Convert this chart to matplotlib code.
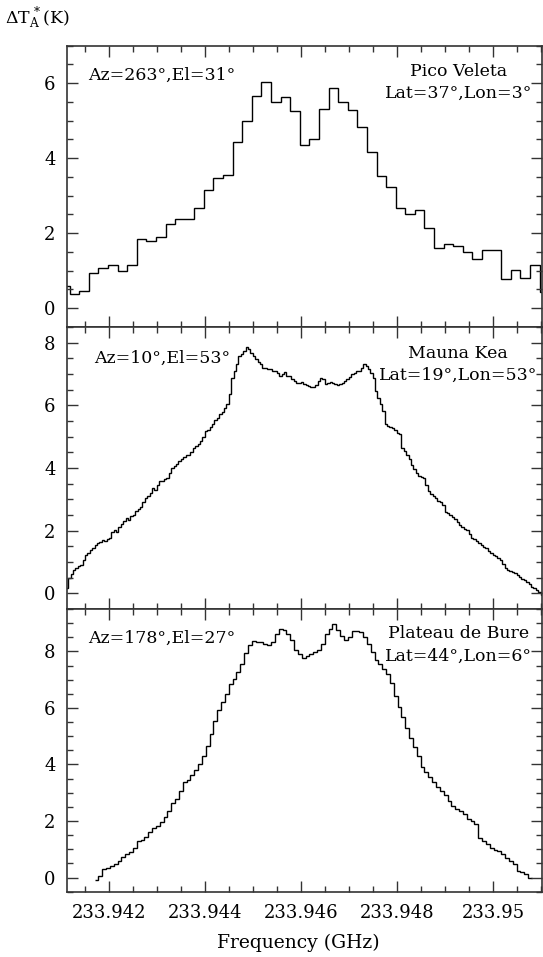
import numpy as np
import matplotlib
matplotlib.use('Agg')
import matplotlib.pyplot as plt
from matplotlib.ticker import MultipleLocator, FuncFormatter

plt.rcParams['font.family'] = ['DejaVu Serif']
plt.rcParams['mathtext.fontset'] = 'dejavuserif'

# x-range of the plot (GHz)
freq_min, freq_max = 233.94111, 233.95102

# ---- Pico Veleta (0.2 MHz channels) ----
pv_start, pv_width = 233.94097, 0.0002
pv_vals = [0.59, 0.37, 0.46, 0.93, 1.06, 1.15, 0.99, 1.16, 1.85, 1.79,
           1.91, 2.24, 2.38, 2.38, 2.66, 3.16, 3.48, 3.55, 4.42, 5.00,
           5.66, 6.04, 5.49, 5.62, 5.27, 4.35, 4.52, 5.30, 5.87, 5.51,
           5.29, 4.82, 4.16, 3.53, 3.23, 2.68, 2.51, 2.62, 2.14, 1.60,
           1.72, 1.66, 1.50, 1.31, 1.54, 1.54, 0.78, 1.01, 0.80, 1.15,
           0.44]

# ---- Mauna Kea (0.05 MHz channels) ----
mk_start, mk_width = 233.94109, 0.00005
mk_vals = [0.16, 0.48, 0.62, 0.75, 0.80, 0.88, 0.91, 1.05, 1.23, 1.30,
           1.38, 1.46, 1.55, 1.60, 1.65, 1.70, 1.66, 1.72, 1.76, 1.97,
           2.02, 1.95, 2.13, 2.20, 2.30, 2.40, 2.35, 2.46, 2.51, 2.62,
           2.70, 2.77, 2.90, 3.04, 3.10, 3.20, 3.36, 3.30, 3.45, 3.57,
           3.60, 3.66, 3.68, 3.85, 4.00, 4.05, 4.12, 4.21, 4.30, 4.36,
           4.40, 4.40, 4.52, 4.64, 4.70, 4.78, 4.85, 5.00, 5.17, 5.22,
           5.30, 5.39, 5.52, 5.60, 5.71, 5.80, 5.92, 6.03, 6.35, 6.88,
           7.10, 7.31, 7.57, 7.65, 7.73, 7.86, 7.79, 7.68, 7.57, 7.47,
           7.38, 7.31, 7.20, 7.18, 7.16, 7.15, 7.08, 7.10, 7.04, 6.95,
           6.99, 7.05, 6.93, 6.93, 6.83, 6.78, 6.72, 6.70, 6.74, 6.67,
           6.64, 6.63, 6.60, 6.58, 6.66, 6.78, 6.88, 6.83, 6.67, 6.70,
           6.75, 6.72, 6.68, 6.64, 6.67, 6.72, 6.78, 6.83, 6.92, 6.99,
           7.02, 7.08, 7.11, 7.20, 7.31, 7.25, 7.15, 7.02, 6.88, 6.45,
           6.22, 6.03, 5.81, 5.39, 5.33, 5.30, 5.28, 5.20, 5.12, 5.07,
           4.64, 4.55, 4.43, 4.28, 4.11, 3.98, 3.84, 3.76, 3.72, 3.68,
           3.47, 3.25, 3.18, 3.10, 3.04, 2.96, 2.90, 2.83, 2.61, 2.55,
           2.50, 2.45, 2.36, 2.28, 2.19, 2.12, 2.06, 2.03, 1.88, 1.76,
           1.72, 1.66, 1.60, 1.54, 1.49, 1.44, 1.36, 1.30, 1.23, 1.18,
           1.12, 1.07, 0.95, 0.80, 0.76, 0.72, 0.69, 0.64, 0.58, 0.53,
           0.47, 0.42, 0.37, 0.30, 0.21, 0.16, 0.10, 0.05, -0.05]

# ---- Plateau de Bure (0.08 MHz channels) ----
pb_start, pb_width = 233.94169, 0.00008
pb_vals = [-0.09, 0.06, 0.30, 0.35, 0.40, 0.47, 0.59, 0.71, 0.83, 0.92,
           1.06, 1.30, 1.32, 1.42, 1.60, 1.75, 1.82, 1.95, 2.15, 2.36,
           2.62, 2.79, 3.05, 3.37, 3.45, 3.62, 3.81, 4.00, 4.30, 4.67,
           5.08, 5.53, 5.91, 6.21, 6.50, 6.86, 7.02, 7.27, 7.57, 7.94,
           8.22, 8.37, 8.33, 8.33, 8.25, 8.24, 8.33, 8.63, 8.81, 8.77,
           8.63, 8.39, 8.06, 7.92, 7.78, 7.83, 7.90, 7.98, 8.06, 8.27,
           8.63, 8.81, 8.96, 8.77, 8.53, 8.42, 8.51, 8.71, 8.72, 8.69,
           8.51, 8.27, 7.98, 7.71, 7.54, 7.39, 7.21, 6.88, 6.41, 6.05,
           5.67, 5.28, 4.94, 4.63, 4.31, 3.90, 3.72, 3.55, 3.37, 3.19,
           3.07, 2.92, 2.72, 2.54, 2.42, 2.34, 2.25, 2.07, 1.99, 1.89,
           1.39, 1.30, 1.18, 1.06, 0.99, 0.95, 0.83, 0.69, 0.59, 0.47,
           0.24, 0.18, 0.12, 0.00]

site_names = ["Pico Veleta", "Mauna Kea", "Plateau de Bure"]
site_pos = ["Lat=37°,Lon=3°", "Lat=19°,Lon=53°", "Lat=44°,Lon=6°"]
az_el = ["Az=263°,El=31°", "Az=10°,El=53°", "Az=178°,El=27°"]
ylims = [(-0.5, 7.0), (-0.5, 8.5), (-0.5, 9.5)]

series = [(pv_start, pv_width, pv_vals),
          (mk_start, mk_width, mk_vals),
          (pb_start, pb_width, pb_vals)]

W, H = 543, 957
fig = plt.figure(figsize=(W / 100, H / 100), dpi=100)
left_px, right_px = 66.7, 542.0
bounds = [(45.7, 327.0), (327.0, 609.0), (609.0, 891.7)]
text_pos = [(0.045, 0.893, 0.907, 0.832),
            (0.058, 0.890, 0.907, 0.830),
            (0.045, 0.896, 0.914, 0.834)]

spine_col = '#333333'
axes = []
for i, ((t, b), (start, width, vals)) in enumerate(zip(bounds, series)):
    ax = fig.add_axes([left_px / W, 1 - b / H, (right_px - left_px) / W, (b - t) / H])
    edges = start + width * np.arange(len(vals) + 1)
    ax.stairs(vals, edges, baseline=None, color='black', linewidth=1.0)
    ax.set_xlim(freq_min, freq_max)
    ax.set_ylim(*ylims[i])
    ax.xaxis.set_major_locator(MultipleLocator(0.002))
    ax.xaxis.set_minor_locator(MultipleLocator(0.0005))
    ax.yaxis.set_major_locator(MultipleLocator(2))
    ax.yaxis.set_minor_locator(MultipleLocator(0.5))
    ax.tick_params(which='both', direction='in', top=True, right=True,
                   color=spine_col, width=1.0, labelsize=13)
    ax.tick_params(which='major', length=8)
    ax.tick_params(which='minor', length=4)
    ax.tick_params(axis='y', pad=8)
    ax.tick_params(axis='x', pad=9)
    for s in ax.spines.values():
        s.set_color(spine_col)
        s.set_linewidth(1.2)
    ax.xaxis.set_major_formatter(FuncFormatter(lambda v, p: f"{v:.6g}"))
    if i < 2:
        ax.tick_params(labelbottom=False)
    ax_x, az_y, n_y, p_y = text_pos[i]
    ax.text(ax_x, az_y, az_el[i], transform=ax.transAxes, fontsize=12.5,
            ha='left', va='center')
    ax.text(0.8237, n_y, site_names[i], transform=ax.transAxes, fontsize=12.5,
            ha='center', va='center')
    ax.text(0.8237, p_y, site_pos[i], transform=ax.transAxes, fontsize=12.5,
            ha='center', va='center')
    axes.append(ax)

fig.text(5 / W, 1 - 18 / H, r'$\Delta\mathrm{T}_{\mathrm{A}}^{\,*}$(K)',
         fontsize=12.5, ha='left', va='center')
fig.text(298 / W, 1 - 943 / H, 'Frequency (GHz)', fontsize=13.5,
         ha='center', va='center')

fig.savefig('out.png', dpi=100)
